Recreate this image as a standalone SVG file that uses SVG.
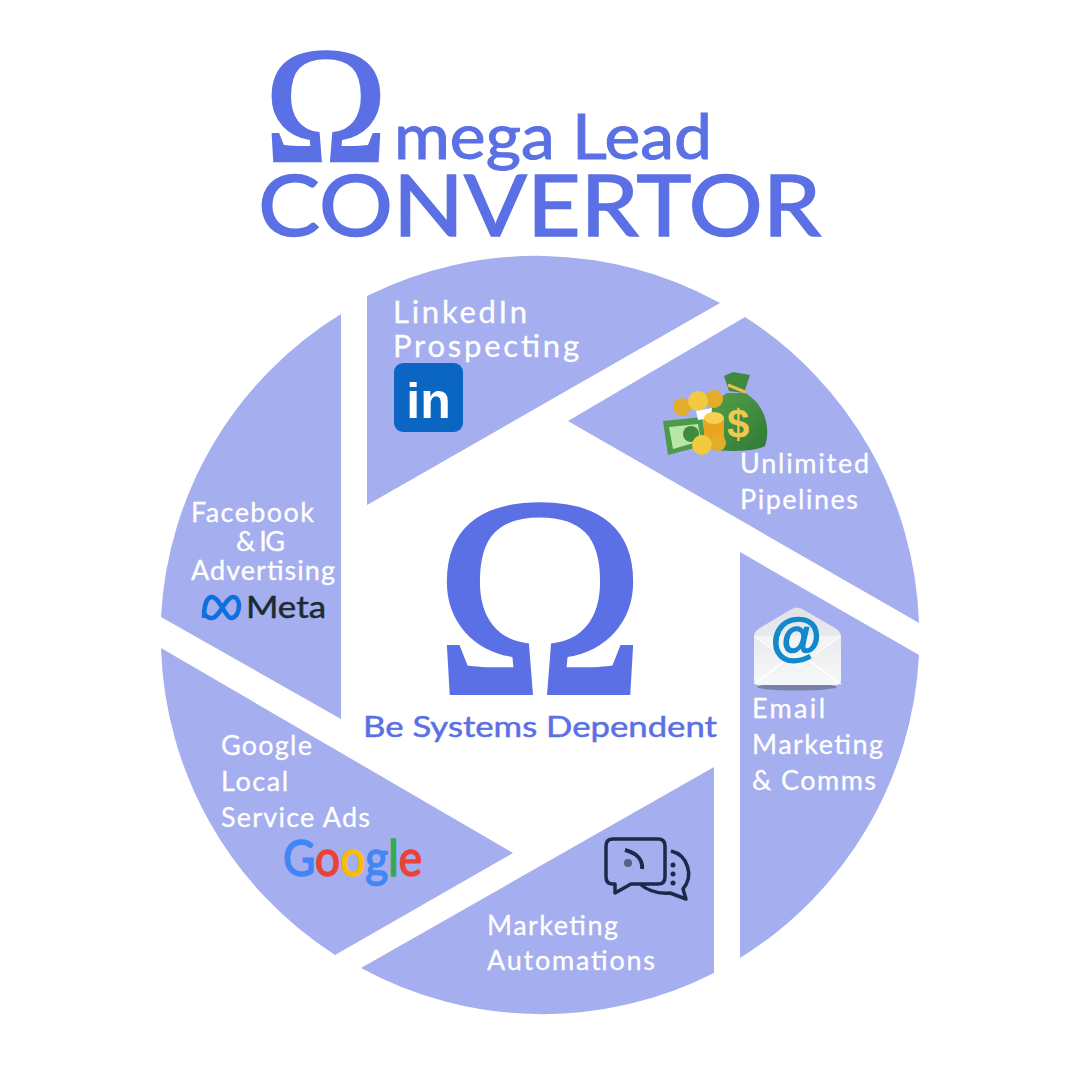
<svg xmlns="http://www.w3.org/2000/svg" width="1080" height="1080" viewBox="0 0 1080 1080">
<defs>
<linearGradient id="env" x1="0" y1="0" x2="0" y2="1"><stop offset="0" stop-color="#dfe3e6"/><stop offset="1" stop-color="#f7f8f9"/></linearGradient>
<linearGradient id="bag" x1="0" y1="0" x2="1" y2="1"><stop offset="0" stop-color="#55a04a"/><stop offset="1" stop-color="#2f7a36"/></linearGradient>
</defs>
<style>
.seg{fill:#a5aeee}
.t{font-family:"Lato","Open Sans",sans-serif;font-size:27px;fill:#fff;stroke:#fff;stroke-width:.3px}
.b{fill:#5b70e4;stroke:#5b70e4;font-family:"Lato","Open Sans",sans-serif}
.o{fill:#5b70e4;stroke:#5b70e4;font-family:"Liberation Serif",serif;text-anchor:middle}
.ic{fill:none;stroke:#1b2a4a;stroke-width:3.5px;stroke-linejoin:round}
</style>
<rect width="1080" height="1080" fill="#fff"/>
<g id="title">
<text class="o" x="326" y="161" font-size="166" stroke-width="2.500">Ω</text>
<text class="b" x="394" y="159" font-size="61" stroke-width="1" textLength="318" lengthAdjust="spacingAndGlyphs">mega Lead</text>
<text class="b" x="258" y="236" font-size="85" stroke-width="1.500" textLength="563" lengthAdjust="spacingAndGlyphs">CONVERTOR</text>
</g>
<g id="linkedin">
<path class="seg" d="M367 505V296A379 379 0 0 1 720 303Z"/>
<text class="t" x="393" y="323" style="font-size:31px" textLength="134">LinkedIn</text>
<text class="t" x="393" y="357" style="font-size:31px" textLength="186">Prospecting</text>
<rect x="394" y="363" width="69" height="69" rx="9" fill="#0a66c2"/>
<text x="428.500" y="418" font-family="Liberation Sans,sans-serif" font-weight="700" font-size="50" fill="#fff" text-anchor="middle">in</text>
</g>
<g id="pipelines">
<path class="seg" d="M568 421L745 317A379 379 0 0 1 919 623Z"/>
<path d="M727 393C706 405 700 430 712 449C725 452 755 452 765 446C772 425 762 402 745 393Z" fill="url(#bag)"/>
<path d="M724 376L733 372L750 375L747 384L744 393L729 391Z" fill="#3f8a3c"/>
<path d="M728 385L745 392" stroke="#e8c14a" stroke-width="3"/>
<text x="738" y="438" font-family="Liberation Sans,sans-serif" font-weight="700" font-size="40" fill="#f0c94f" text-anchor="middle">$</text>
<path d="M663 421L702 417L706 445L668 455Z" fill="#4d9a4a"/>
<path d="M669 427L698 424L701 441L673 449Z" fill="#b7e6a6"/>
<circle cx="691" cy="434" r="8" fill="#3f8a3c"/>
<circle cx="682" cy="407" r="9" fill="#e3ad2a"/><circle cx="714" cy="399" r="9" fill="#e3ad2a"/><circle cx="698" cy="401" r="10" fill="#f3c93f"/>
<path d="M696 411L712 408L711 418L698 420Z" fill="#fff"/>
<path d="M704 418H724V441H704Z" fill="#e9a51f"/>
<ellipse cx="714" cy="418" rx="10" ry="6" fill="#f6d050"/>
<circle cx="718" cy="443" r="8" fill="#e3ad2a"/><circle cx="702" cy="445" r="10" fill="#f3c93f"/>
<text class="t" x="740" y="473" textLength="129">Unlimited</text>
<text class="t" x="740" y="509" textLength="118">Pipelines</text>
</g>
<g id="email">
<path class="seg" d="M740 552L919 655A379 379 0 0 1 740 958Z"/>
<ellipse cx="797" cy="687" rx="40" ry="3.500" fill="#6f7696" opacity=".8"/>
<path d="M754 636Q754 632 760 628L790 610Q797 605 804 610L835 628Q841 632 841 636V680Q841 685 836 685H759Q754 685 754 680Z" fill="url(#env)"/>
<path d="M754 684L797 652L841 684" fill="none" stroke="#fff" stroke-width="1.500"/>
<path d="M754 636L797 668L841 636" fill="#f3f4f5" stroke="#fff"/>
<text x="796" y="654" font-family="Liberation Sans,sans-serif" font-weight="700" font-size="52" fill="#1488cc" stroke="#1488cc" stroke-width="1.500" text-anchor="middle">@</text>
<text class="t" x="752" y="718" textLength="73">Email</text>
<text class="t" x="752" y="754" textLength="131">Marketing</text>
<text class="t" x="752" y="790" textLength="124">&amp; Comms</text>
</g>
<g id="automations">
<path class="seg" d="M714 767V973A379 379 0 0 1 361 968Z"/>
<path class="ic" d="M613 839H658Q665 839 665 846V877Q665 884 658 884H631L615 893V884H613Q606 884 606 877V846Q606 839 613 839Z"/>
<path class="ic" d="M671 851C688 855 694 876 683 889L686 899L670 893C657 894 648 891 640 884"/>
<path d="M625 850C637 853 643 860 642 869" fill="none" stroke="#1b2a4a" stroke-width="4"/>
<circle cx="628" cy="863" r="4" fill="#55617f"/>
<circle cx="673" cy="865" r="2.500" fill="#1b2a4a"/><circle cx="673" cy="874" r="2.500" fill="#1b2a4a"/><circle cx="673" cy="883" r="2.500" fill="#1b2a4a"/>
<text class="t" x="487" y="935" textLength="131">Marketing</text>
<text class="t" x="487" y="970" textLength="168">Automations</text>
</g>
<g id="google">
<path class="seg" d="M513 853L335 955A379 379 0 0 1 161 648Z"/>
<text class="t" x="221" y="755" textLength="91">Google</text>
<text class="t" x="221" y="791" textLength="67">Local</text>
<text class="t" x="221" y="827" textLength="149">Service Ads</text>
<text x="283" y="876" font-family="Lato,sans-serif" font-size="51" stroke-width="1.500" textLength="139" lengthAdjust="spacingAndGlyphs"><tspan fill="#4285f4" stroke="#4285f4">G</tspan><tspan fill="#ea4335" stroke="#ea4335">o</tspan><tspan fill="#fbbc05" stroke="#fbbc05">o</tspan><tspan fill="#4285f4" stroke="#4285f4">g</tspan><tspan fill="#34a853" stroke="#34a853">l</tspan><tspan fill="#ea4335" stroke="#ea4335">e</tspan></text>
</g>
<g id="facebook">
<path class="seg" d="M341 314V719L161 617A379 379 0 0 1 341 314Z"/>
<text class="t" x="191" y="522" textLength="123">Facebook</text>
<text class="t" x="236" y="551" textLength="49">&amp; IG</text>
<text class="t" x="191" y="580" textLength="144">Advertising</text>
<path d="M204 618C204 605 207 597 212 597C219 597 226 618 231 618C237 618 239 610 239 606C239 600 236 597 233 597C226 597 219 618 212 618C207 618 204 615 204 610" fill="none" stroke="#0f6fe0" stroke-width="4.500"/>
<text x="246" y="618" font-family="Lato,sans-serif" font-size="31" fill="#1c2b33" stroke="#1c2b33" stroke-width=".5" textLength="80" lengthAdjust="spacingAndGlyphs">Meta</text>
</g>
<g id="center">
<text class="o" x="540" y="693" font-size="285" stroke-width="4">Ω</text>
<text class="b" x="363" y="737" font-size="29" stroke-width=".5" textLength="354" lengthAdjust="spacingAndGlyphs">Be Systems Dependent</text>
</g>
</svg>
